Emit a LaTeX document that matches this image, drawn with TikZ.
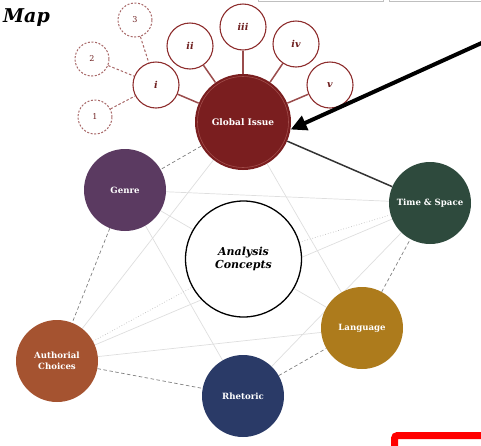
\documentclass[tikz,border=0pt]{standalone}
\usepackage{fontspec}
\setmainfont{DejaVu Serif}
\usetikzlibrary{arrows.meta}
\pgfdeclarelayer{bg}
\pgfsetlayers{bg,main}
\definecolor{gired}{HTML}{7A1E1F}
\definecolor{ringred}{HTML}{A04C4A}
\definecolor{rimred}{HTML}{8E2E2E}
\definecolor{romred}{HTML}{6E1E1E}
\definecolor{dashred}{HTML}{A86868}
\definecolor{stem}{HTML}{9A4C4C}
\definecolor{genrec}{HTML}{5B3A61}
\definecolor{timec}{HTML}{2E4A3D}
\definecolor{langc}{HTML}{AD7B1C}
\definecolor{rhetc}{HTML}{2A3A67}
\definecolor{authc}{HTML}{A55330}
\begin{document}
\begin{tikzpicture}[x=1pt,y=-1pt,
  big/.style={circle, minimum size=82pt, inner sep=0pt, text=white, align=center,
    font=\bfseries\fontsize{8.6}{10.5}\selectfont},
  rom/.style={circle, draw=rimred, line width=1.1pt, fill=white, minimum size=46pt,
    inner sep=0pt, text=romred, font=\bfseries\itshape\fontsize{9.5}{12}\selectfont},
  num/.style={circle, draw=dashred, dashed, dash pattern=on 2pt off 1.6pt, line width=1pt,
    fill=white, minimum size=34pt, inner sep=0pt, text=romred,
    font=\fontsize{8}{10}\selectfont},
  faint/.style={draw=black!13, line width=0.7pt},
  dotline/.style={draw=black!25, line width=0.7pt, dotted},
  dashline/.style={draw=black!50, line width=0.7pt, dash pattern=on 3.5pt off 2.5pt},
  strongline/.style={draw=black!80, line width=1.5pt},
  stemline/.style={draw=stem, line width=1.5pt},
  numline/.style={draw=dashred, line width=1pt, dash pattern=on 2.5pt off 2pt},
]
\useasboundingbox (0,0) rectangle (481,445);

% title
\node[anchor=west, inner sep=0pt] (title) at (3,18)
  {\fontsize{19}{23}\selectfont\bfseries\itshape Map};

% main nodes
\node[big, fill=gired, minimum size=96pt, font=\bfseries\fontsize{9}{11}\selectfont] (gi) at (243,122) {Global Issue};
\draw[ringred, line width=0.6pt] (gi.center) circle (45.5pt);
\node[circle, draw=black, line width=1.3pt, fill=white, minimum size=116pt, inner sep=0pt,
  align=center, font=\bfseries\itshape\fontsize{11}{13.5}\selectfont] (ac) at (243.5,259) {Analysis\\Concepts};
\node[big, fill=genrec] (genre) at (125,190) {Genre};
\node[big, fill=timec] (time) at (430,203) {Time \& Space};
\node[big, fill=langc] (lang) at (362,328) {Language};
\node[big, fill=rhetc] (rhet) at (243,396) {Rhetoric};
\node[big, fill=authc] (auth) at (57,361) {Authorial\\Choices};

% roman numeral nodes
\node[rom] (ri) at (156,85) {i};
\node[rom] (rii) at (190,46) {ii};
\node[rom] (riii) at (243,27) {iii};
\node[rom] (riv) at (296,44) {iv};
\node[rom] (rv) at (330,85) {v};

% numbered dashed nodes
\node[num] (n1) at (95,117) {1};
\node[num] (n2) at (92,59) {2};
\node[num] (n3) at (135,20) {3};

\begin{pgfonlayer}{bg}
  \draw[faint] (genre) -- (time);
  \draw[faint] (genre) -- (lang);
  \draw[faint] (genre) -- (rhet);
  \draw[faint] (gi) -- (auth);
  \draw[faint] (gi) -- (lang);
  \draw[faint] (time) -- (auth);
  \draw[faint] (rhet) -- (time);
  \draw[faint] (auth) -- (lang);
  \draw[dotline] (time) -- (ac);
  \draw[dotline] (auth) -- (ac);
  \draw[dashline] (gi) -- (genre);
  \draw[dashline] (genre) -- (auth);
  \draw[dashline] (auth) -- (rhet);
  \draw[dashline] (rhet) -- (lang);
  \draw[dashline] (lang) -- (time);
  \draw[strongline] (gi) -- (time);
  \draw[stemline] (gi) -- (ri);
  \draw[stemline] (gi) -- (rii);
  \draw[stemline] (gi) -- (riii);
  \draw[stemline] (gi) -- (riv);
  \draw[stemline] (gi) -- (rv);
  \draw[numline] (n1) -- (ri);
  \draw[numline] (n2) -- (ri);
  \draw[numline] (n3) -- (ri);
\end{pgfonlayer}

% pointer arrow
\coordinate (astart) at (486,41);
\draw[line width=4pt, -{Triangle[length=16pt,width=15pt]}] (astart) -- (gi.-9);

% screen artifacts
\coordinate (b1a) at (258,-5);
\coordinate (b1b) at (383,-5);
\coordinate (b2a) at (389,-5);
\draw[black!25, line width=0.6pt] (b1a) -- (258,1.5) -- (383,1.5) -- (b1b);
\draw[black!25, line width=0.6pt] (b2a) -- (389,1.5) -- (490,1.5);
\coordinate (redbox) at (394.5,435.5);
\draw[red, line width=7pt, rounded corners=3pt] (redbox) rectangle (500,470);
\end{tikzpicture}
\end{document}
